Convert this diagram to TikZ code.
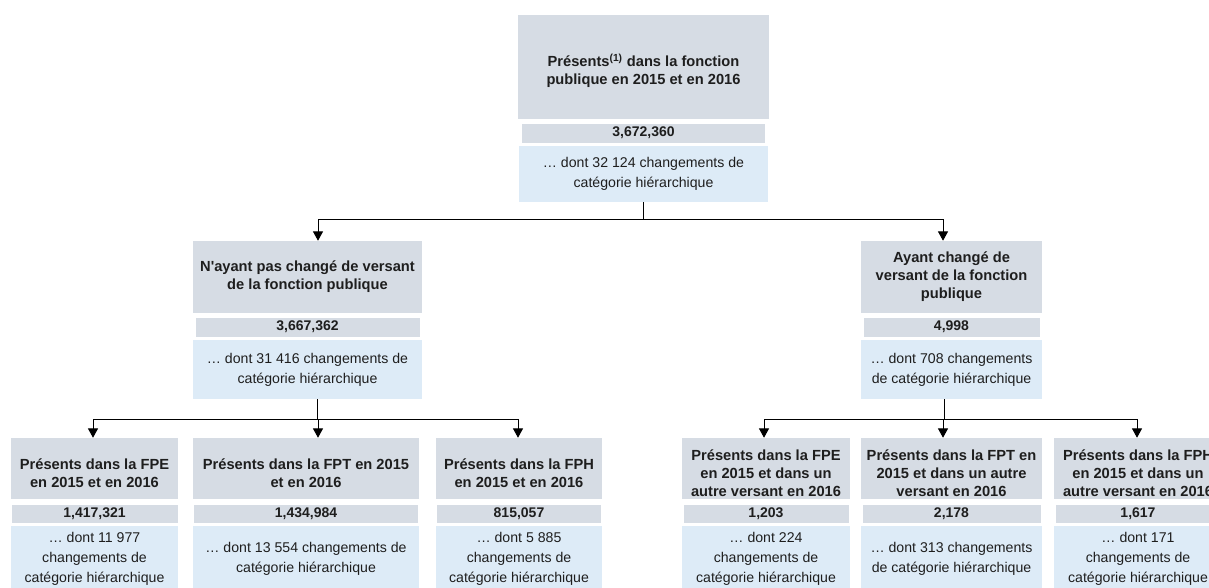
\documentclass[tikz,border=0pt]{standalone}
\usepackage{fontspec}
\setmainfont{Liberation Sans}
\newfontfamily\quotefont{Liberation Sans}
\usepackage{xcolor}
\usepackage{tikz}
\usetikzlibrary{positioning, arrows.meta}
\definecolor{headgray}{RGB}{214,220,228}
\definecolor{notebl}{RGB}{221,235,247}
\definecolor{inkgray}{RGB}{30,30,30}
\newcommand{\hdstrut}{\rule{0pt}{15pt}}

\begin{document}
\begin{tikzpicture}[
    x=0.75pt, y=-0.75pt,
    node distance=3pt,
    wd/.style={minimum width=#1*0.75pt},
    ht/.style={minimum height=#1*0.75pt},
    headbox/.style={rectangle, fill=headgray, inner sep=0pt, align=center, text=inkgray, font=\fontsize{11}{13.5}\selectfont\bfseries},
    numbar/.style={rectangle, fill=headgray, inner sep=0pt, align=center, text=inkgray, font=\fontsize{10.5}{12}\selectfont\bfseries},
    notebox/.style={rectangle, fill=notebl, inner sep=0pt, align=center, text=inkgray, font=\fontsize{10.6}{15}\selectfont},
    arrow/.style={-{Triangle[width=7.5pt, length=7pt]}, line width=0.75pt},
    link/.style={line width=0.75pt}
]
    \useasboundingbox (0,0) rectangle (1209,587);
    \clip (0,0) rectangle (1209,587);

    % top
    \node [headbox, wd=251, ht=104] (pres) at (643.5,67) {\hdstrut Présents\textsuperscript{(1)} dans la fonction\\publique en 2015 et en 2016};
    \node [numbar, wd=243, ht=19, below=3pt of pres] (presN) {3,672,360};
    \node [notebox, wd=249, ht=56, below=2.25pt of presN] (presD) {… dont 32 124 changements de\\catégorie hiérarchique};

    % second level
    \node [headbox, wd=229, ht=72] (same) at (307.5,277) {N{\quotefont '}ayant pas changé de versant\\de la fonction publique};
    \node [numbar, wd=224, ht=19, below=3pt of same] (sameN) {3,667,362};
    \node [notebox, wd=229, ht=59, below=2.25pt of sameN] (sameD) {… dont 31 416 changements de\\catégorie hiérarchique};

    \node [headbox, wd=181, ht=72] (moved) at (951.5,277) {Ayant changé de\\versant de la fonction\\publique};
    \node [numbar, wd=176, ht=19, below=3pt of moved] (movedN) {4,998};
    \node [notebox, wd=181, ht=59, below=2.25pt of movedN] (movedD) {… dont 708 changements\\de catégorie hiérarchique};

    % third level, same versant
    \node [headbox, wd=167, ht=61] (fpe) at (94.5,468.5) {\hdstrut Présents dans la FPE\\en 2015 et en 2016};
    \node [numbar, wd=166, ht=18, below=3.75pt of fpe] (fpeN) {1,417,321};
    \node [notebox, wd=167, ht=65, below=2.25pt of fpeN] (fpeD) {… dont 11 977\\changements de\\catégorie hiérarchique};

    \node [headbox, wd=226, ht=61] (fpt) at (306,468.5) {\hdstrut Présents dans la FPT en 2015\\et en 2016};
    \node [numbar, wd=224, ht=18, below=3.75pt of fpt] (fptN) {1,434,984};
    \node [notebox, wd=226, ht=65, below=2.25pt of fptN] (fptD) {… dont 13 554 changements de\\catégorie hiérarchique};

    \node [headbox, wd=166, ht=61] (fph) at (519,468.5) {\hdstrut Présents dans la FPH\\en 2015 et en 2016};
    \node [numbar, wd=164, ht=18, below=3.75pt of fph] (fphN) {815,057};
    \node [notebox, wd=166, ht=65, below=2.25pt of fphN] (fphD) {… dont 5 885\\changements de\\catégorie hiérarchique};

    % third level, other versant
    \node [headbox, wd=168, ht=61] (fpeX) at (766,468.5) {\hdstrut Présents dans la FPE\\en 2015 et dans un\\autre versant en 2016};
    \node [numbar, wd=165, ht=18, below=3.75pt of fpeX] (fpeXN) {1,203};
    \node [notebox, wd=168, ht=65, below=2.25pt of fpeXN] (fpeXD) {… dont 224\\changements de\\catégorie hiérarchique};

    \node [headbox, wd=181, ht=61] (fptX) at (951.5,468.5) {\hdstrut Présents dans la FPT en\\2015 et dans un autre\\versant en 2016};
    \node [numbar, wd=178, ht=18, below=3.75pt of fptX] (fptXN) {2,178};
    \node [notebox, wd=181, ht=65, below=2.25pt of fptXN] (fptXD) {… dont 313 changements\\de catégorie hiérarchique};

    \node [headbox, wd=168, ht=61] (fphX) at (1138,468.5) {\hdstrut Présents dans la FPH\\en 2015 et dans un\\autre versant en 2016};
    \node [numbar, wd=165, ht=18, below=3.75pt of fphX] (fphXN) {1,617};
    \node [notebox, wd=168, ht=65, below=2.25pt of fphXN] (fphXD) {… dont 171\\changements de\\catégorie hiérarchique};

    % connectors
    \coordinate (hubTop) at (643,219);
    \coordinate (hubL) at (317,419);
    \coordinate (hubR) at (944,419);

    \draw [link] (presD.south -| hubTop) -- (hubTop);
    \draw [arrow] (hubTop) -- (318,219) coordinate (dropS) -- (dropS |- same.north);
    \draw [arrow] (hubTop) -- (943,219) coordinate (dropM) -- (dropM |- moved.north);

    \draw [link] (sameD.south -| hubL) -- (hubL);
    \draw [arrow] (hubL) -- (93,419) coordinate (dFpe) -- (dFpe |- fpe.north);
    \draw [arrow] (hubL) -- (318,419) coordinate (dFpt) -- (dFpt |- fpt.north);
    \draw [arrow] (hubL) -- (518,419) coordinate (dFph) -- (dFph |- fph.north);

    \draw [link] (movedD.south -| hubR) -- (hubR);
    \draw [arrow] (hubR) -- (764,419) coordinate (dFpeX) -- (dFpeX |- fpeX.north);
    \draw [arrow] (hubR) -- (943,419) coordinate (dFptX) -- (dFptX |- fptX.north);
    \draw [arrow] (hubR) -- (1137,419) coordinate (dFphX) -- (dFphX |- fphX.north);
\end{tikzpicture}
\end{document}
